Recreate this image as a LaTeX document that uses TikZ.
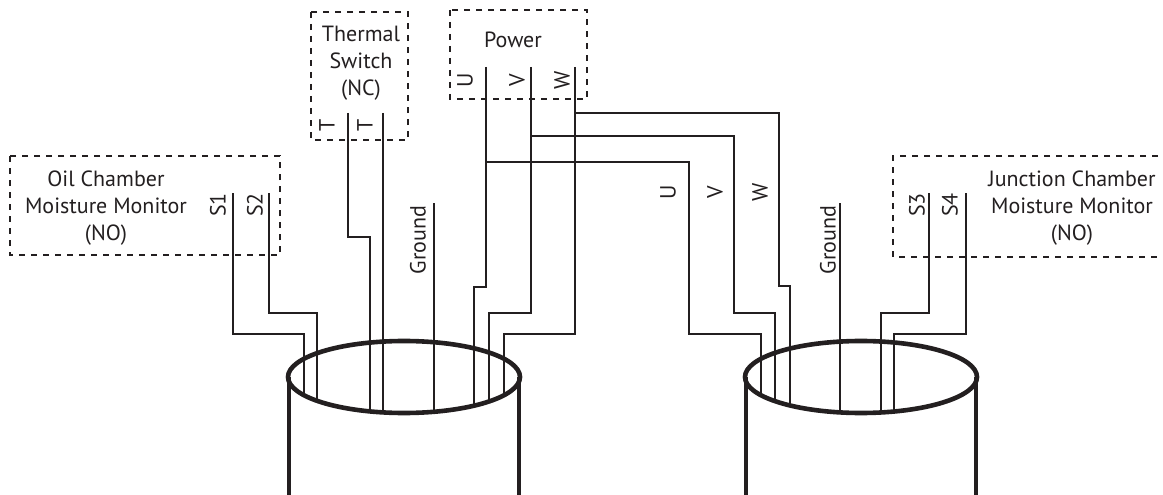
\documentclass[tikz,border=0pt]{standalone}
\usepackage{fontspec}
\setmainfont{PT Sans}
\usetikzlibrary{calc,positioning}
\definecolor{ink}{HTML}{231F20}
\tikzstyle{wire} = [line width=1.4pt, draw=ink]
\tikzstyle{box} = [line width=1.4pt, draw=ink, dash pattern=on 6pt off 6pt]
\tikzstyle{rim} = [line width=4.6pt, draw=ink]
\tikzstyle{txt} = [font=\fontsize{22}{27}\selectfont, text=ink, align=center, inner sep=0pt]
\tikzstyle{tag} = [txt, rotate=90]

\begin{document}
\begin{tikzpicture}[x=1pt, y=-1pt,
    declare function={rimy(\p,\c)=377+36*sqrt(1-((\p-\c)/116)^2);}]
    \useasboundingbox (0,0) rectangle (1163,495);

    % boxes
    \draw[box] (10,156) rectangle (280,255);
    \draw[box] (311,12) rectangle (408,140);
    \draw[box] (450,10) rectangle (587,99);
    \draw[box] (1170,156) -- (893,156) -- (893,257) -- (1170,257);

    % box texts
    \node[txt] (oil) at (106,208) {Oil Chamber\\Moisture Monitor\\(NO)};
    \node[txt] (thermal) at (361,63) {Thermal\\Switch\\(NC)};
    \node[txt] (power) at (513,40) {Power};
    \node[txt] (junction) at (1072,208) {Junction Chamber\\Moisture Monitor\\(NO)};

    % wire tags
    \node[tag] (tS1) at (218,205) {S1};
    \node[tag] (tS2) at (255,205) {S2};
    \node[tag] (tT1) at (327,125) {T};
    \node[tag] (tT2) at (365,125) {T};
    \node[tag] (tU) at (465,80) {U};
    \node[tag] (tV) at (517,80) {V};
    \node[tag] (tW) at (562,80) {W};
    \node[tag] (tU2) at (668,192) {U};
    \node[tag] (tV2) at (715,192) {V};
    \node[tag] (tW2) at (760,192) {W};
    \node[tag] (tGndL) at (418,240) {Ground};
    \node[tag] (tGndR) at (828,240) {Ground};
    \node[tag] (tS3) at (917,205) {S3};
    \node[tag] (tS4) at (950,205) {S4};

    % terminals
    \coordinate (S1) at (233,193);
    \coordinate (S2) at (269,193);
    \coordinate (T1) at (348,113);
    \coordinate (T2) at (383,113);
    \coordinate (GndL) at (434,203);
    \coordinate (U) at (486,67);
    \coordinate (V) at (531,67);
    \coordinate (W) at (575,67);
    \coordinate (GndR) at (840,203);
    \coordinate (S3) at (929,193);
    \coordinate (S4) at (966,193);

    % entry points on the rims
    \coordinate (S1in) at (304,{rimy(304,404)});
    \coordinate (S2in) at (317,{rimy(317,404)});
    \coordinate (T1in) at (370,{rimy(370,404)});
    \coordinate (T2in) at (383,{rimy(383,404)});
    \coordinate (GndLin) at (434,{rimy(434,404)});
    \coordinate (Uin) at (474,{rimy(474,404)});
    \coordinate (Vin) at (489,{rimy(489,404)});
    \coordinate (Win) at (504,{rimy(504,404)});
    \coordinate (U2in) at (761,{rimy(761,861)});
    \coordinate (V2in) at (775,{rimy(775,861)});
    \coordinate (W2in) at (790,{rimy(790,861)});
    \coordinate (GndRin) at (840,{rimy(840,861)});
    \coordinate (S3in) at (881,{rimy(881,861)});
    \coordinate (S4in) at (894,{rimy(894,861)});

    % left cable
    \draw[wire] (S1) |- (304,334) -- (S1in);
    \draw[wire] (S2) |- (317,313) -- (S2in);
    \draw[wire] (T1) |- (370,237) -- (T1in);
    \draw[wire] (T2) -- (T2in);
    \draw[wire] (GndL) -- (GndLin);
    \draw[wire] (U) |- (474,287) -- (Uin);
    \draw[wire] (V) |- (489,313) -- (Vin);
    \draw[wire] (W) |- (504,334) -- (Win);

    % power over to the right cable
    \draw[wire] (486,162) -| (689,334) -- (761,334) -- (U2in);
    \draw[wire] (531,136) -| (734,313) -- (775,313) -- (V2in);
    \draw[wire] (575,113) -| (779,286) -- (790,286) -- (W2in);

    % right cable
    \draw[wire] (GndR) -- (GndRin);
    \draw[wire] (S3) |- (881,313) -- (S3in);
    \draw[wire] (S4) |- (894,334) -- (S4in);

    % cylinders
    \foreach \c in {404,861} {
        \draw[rim] (\c-115,497) -- (\c-115,377);
        \draw[rim] (\c+115,497) -- (\c+115,377);
        \draw[rim] (\c,377) ellipse [x radius=116pt, y radius=36pt];
    }
\end{tikzpicture}
\end{document}
